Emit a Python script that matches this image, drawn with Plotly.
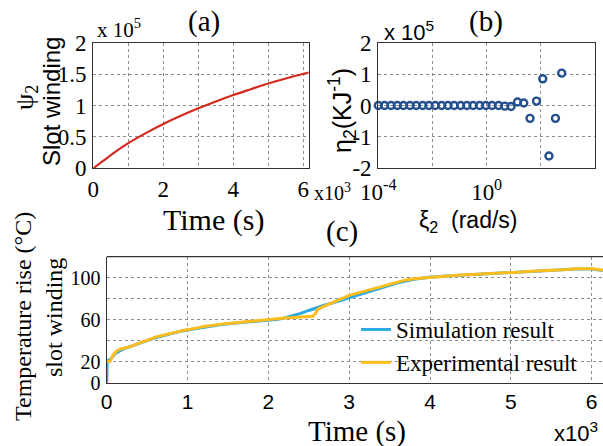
import plotly.graph_objects as go

# ---------------- data ----------------
# (a) psi_2 vs time
time_a_s = [0, 250, 500, 1000, 1500, 2000, 2500, 3000, 3500, 4000, 4500, 5000, 5500, 6000, 6150]
psi2 = [0, 10500, 21000, 40000, 56000, 70500, 83500, 95500, 106500, 116700, 126000, 135000, 143000, 150500, 152500]

# (b) eta_2 vs xi_2 (log10 of xi_2 and eta in KJ^-1)
xi_log10 = [-4.00, -3.77, -3.53, -3.30, -3.07, -2.83, -2.60, -2.36, -2.13, -1.90,
            -1.66, -1.43, -1.20, -0.96, -0.73, -0.50, -0.26, -0.03, 0.20, 0.44,
            0.67, 0.90, 1.14, 1.37, 1.60, 1.84, 2.07, 2.30, 2.54, 2.77]
eta2 = [0, 0, 0, 0, 0, 0, 0, 0, 0, 0,
        0, 0, 0, 0, 0, 0, 0, 0, 0, 0,
        -2000, -3000, 11000, 8000, -41000, 14000, 85000, -161000, -41000, 103000]

# (c) temperature rise of slot winding
time_sim_s = [0, 5, 50, 100, 200, 300, 400, 500, 600, 700, 800, 900, 1000, 1200, 1400, 1600,
              1800, 2000, 2100, 2200, 2300, 2400, 2500, 2600, 2700, 2800, 3000, 3200, 3400,
              3600, 3800, 4000, 4200, 4500, 5000, 5500, 5800, 6000, 6140]
temp_sim = [0, 20.5, 22.5, 27.5, 32.0, 34.5, 37.2, 40.0, 42.8, 45.0, 47.0, 48.8, 50.2, 53.0,
            55.2, 56.8, 58.0, 59.4, 60.3, 61.6, 63.5, 66.0, 68.8, 71.5, 74.0, 76.0, 80.8,
            86.0, 90.8, 95.2, 98.6, 100.5, 101.5, 102.8, 104.8, 107.0, 108.3, 108.2, 106.8]

time_exp_s = [0, 40, 80, 120, 160, 200, 250, 300, 350, 400, 450, 500, 550, 600, 650, 700,
              750, 800, 850, 900, 950, 1000, 1050, 1100, 1150, 1200, 1250, 1300, 1350, 1400,
              1450, 1500, 1600, 1700, 1800, 1900, 2000, 2100, 2200, 2300, 2400, 2500, 2550,
              2580, 2610, 2650, 2700, 2800, 2900, 3000, 3100, 3200, 3300, 3400, 3500, 3600,
              3700, 3800, 3900, 4000, 4100, 4200, 4300, 4400, 4500, 4600, 4700, 4800, 4900,
              5000, 5100, 5200, 5300, 5400, 5500, 5600, 5700, 5800, 5900, 6000, 6100, 6140]
temp_exp = [20.5, 20.0, 26.5, 30.0, 31.8, 32.5, 33.8, 34.6, 36.2, 37.5, 38.6, 40.6, 41.8,
            43.4, 44.3, 45.6, 46.4, 47.6, 48.3, 49.2, 49.6, 50.6, 51.2, 52.3, 52.7, 53.6,
            54.1, 54.9, 55.1, 55.8, 55.9, 56.5, 57.0, 57.9, 58.4, 59.6, 60.1, 60.9, 61.7,
            62.0, 62.6, 62.8, 63.3, 65.5, 70.0, 71.4, 73.2, 76.8, 79.9, 83.2, 85.3, 87.9,
            89.8, 92.2, 94.1, 96.3, 97.9, 99.1, 99.8, 100.6, 101.0, 101.8, 102.0, 102.6,
            102.9, 103.5, 103.7, 104.3, 104.4, 104.9, 105.3, 105.8, 106.1, 106.7, 107.0,
            107.6, 107.9, 108.5, 108.8, 108.6, 107.6, 107.3]

ticks_a_x = [0, 1000, 2000, 3000, 4000, 5000, 6000]
ticks_a_x_text = ["0", "", "2", "", "4", "", "6"]
ticks_a_y = [0, 50000, 100000, 150000, 200000]
ticks_a_y_text = ["0", "0.5", "1", "1.5", "2"]
ticks_b_x = [1e-4, 1e-2, 1e0, 1e2, 1e4]
ticks_b_x_text = ["10<sup>-4</sup>", "", "10<sup>0</sup>", "", "10<sup>4</sup>"]
ticks_b_y = [-200000, -100000, 0, 100000, 200000]
ticks_b_y_text = ["-2", "-1", "0", "1", "2"]
ticks_c_x = [0, 1000, 2000, 3000, 4000, 5000, 6000]
ticks_c_x_text = ["0", "1", "2", "3", "4", "5", "6"]
ticks_c_y = [0, 20, 40, 60, 80, 100]
ticks_c_y_text = ["0", "20", "", "60", "", "100"]

# ---------------- layout helpers ----------------
W, H = 603, 446
def fx(p):
    return p / W
def fy(p):
    return 1 - p / H

SERIF = "Liberation Serif, Times New Roman, serif"
SANS = "Liberation Sans, Arial, sans-serif"
NARROW = "Liberation Sans Narrow, Liberation Sans, Arial, sans-serif"
FRAME = "#333333"
GRID = "#8c8c8c"

fig = go.Figure()

fig.add_trace(go.Scatter(x=time_a_s, y=psi2, mode="lines", line=dict(color="#d42a1e", width=2.2),
                         line_shape="spline", xaxis="x", yaxis="y", showlegend=False))
fig.add_trace(go.Scatter(x=[10 ** e for e in xi_log10], y=eta2, mode="markers",
                         marker=dict(symbol="circle-open", size=7, color="#24508f",
                                     line=dict(width=2.4, color="#24508f")),
                         cliponaxis=False, xaxis="x2", yaxis="y2", showlegend=False))
fig.add_trace(go.Scatter(x=time_sim_s, y=temp_sim, mode="lines", name="Simulation result",
                         line=dict(color="#2aaae2", width=3), xaxis="x3", yaxis="y3"))
fig.add_trace(go.Scatter(x=time_exp_s, y=temp_exp, mode="lines", name="Experimental result",
                         line=dict(color="#fdbd1c", width=3), xaxis="x3", yaxis="y3"))

axis_common = dict(showline=True, linecolor=FRAME, linewidth=1.3, showgrid=True, gridcolor=GRID,
                   griddash="dot", gridwidth=1, zeroline=False, ticks="", tickmode="array",
                   automargin=False)

fig.update_layout(
    template="none",
    width=W, height=H, margin=dict(l=0, r=0, t=0, b=0, pad=0),
    paper_bgcolor="white", plot_bgcolor="white",
    xaxis=dict(axis_common, domain=[fx(93.3), fx(309.3)], range=[0, 6170], mirror=True,
               tickvals=ticks_a_x, ticktext=ticks_a_x_text, anchor="y",
               tickfont=dict(family=SERIF, size=23, color="black")),
    yaxis=dict(axis_common, domain=[fy(168.3), fy(42.7)], range=[0, 200000], mirror=True,
               tickvals=ticks_a_y, ticktext=ticks_a_y_text, anchor="x", ticklabelstandoff=1,
               tickfont=dict(family=SERIF, size=23, color="black")),
    xaxis2=dict(axis_common, domain=[fx(378.3), fx(595)], type="log", range=[-4, 4], mirror=True,
                tickvals=ticks_b_x, ticktext=ticks_b_x_text, anchor="y2", ticklabelstandoff=3,
                tickfont=dict(family=SERIF, size=23, color="black")),
    yaxis2=dict(axis_common, domain=[fy(168.3), fy(42.7)], range=[-200000, 200000], mirror=True,
                tickvals=ticks_b_y, ticktext=ticks_b_y_text, anchor="x2", ticklabelstandoff=1,
                tickfont=dict(family=SERIF, size=23, color="black")),
    xaxis3=dict(axis_common, domain=[fx(106.7), 1.0], range=[0, 6140], mirror=False,
                tickvals=ticks_c_x, ticktext=ticks_c_x_text, anchor="y3",
                tickfont=dict(family=NARROW, size=21, color="black")),
    yaxis3=dict(axis_common, domain=[fy(382.7), fy(256.7)], range=[0, 120], mirror=False,
                tickvals=ticks_c_y, ticktext=ticks_c_y_text, anchor="x3", ticklabelstandoff=1,
                tickfont=dict(family=SERIF, size=20, color="black")),
    legend=dict(x=fx(356), y=fy(308), xanchor="left", yanchor="top", bgcolor="rgba(0,0,0,0)",
                font=dict(family=SERIF, size=23, color="black"), tracegroupgap=0),
)

# top frame line for panel (c)
fig.add_shape(type="line", xref="x3 domain", yref="y3 domain", x0=0, x1=1, y0=1, y1=1,
              line=dict(color=FRAME, width=1.3))

def ann(text, x, y, family, size, angle=0, xanchor="center", yanchor="middle"):
    fig.add_annotation(text=text, x=fx(x), y=fy(y), xref="paper", yref="paper", showarrow=False,
                       xanchor=xanchor, yanchor=yanchor, textangle=angle,
                       font=dict(family=family, size=size, color="black"))

ann("(a)", 204, 21, SERIF, 29)
ann("x 10<sup>5</sup>", 95, 29, SERIF, 21, xanchor="left")
ann("x10<sup>3</sup>", 312, 192, SERIF, 20, xanchor="left")
ann("Time (s)", 213, 220, SERIF, 30)
ann("ψ<sub>2</sub>", 26, 98, SERIF, 26, angle=-90)
ann("Slot winding", 51, 102, SANS, 24, angle=-90)

ann("(b)", 486, 21, SERIF, 29)
ann("x 10<sup>5</sup>", 382, 31, SANS, 22, xanchor="left")
ann("η<sub>2</sub>(KJ<sup>-1</sup>)", 342, 111, SANS, 25, angle=-90)
ann("ξ<sub>2</sub>  (rad/s)", 468, 221, SANS, 23)

ann("(c)", 342, 232, SERIF, 29)
ann("Temperature rise (°C)", 23, 317, SERIF, 24, angle=-90)
ann("slot winding", 54, 318, SERIF, 24, angle=-90)
ann("Time (s)", 357, 431, SERIF, 29)
ann("x10<sup>3</sup>", 552, 432, NARROW, 22, xanchor="left")

fig.write_html("out.html")
